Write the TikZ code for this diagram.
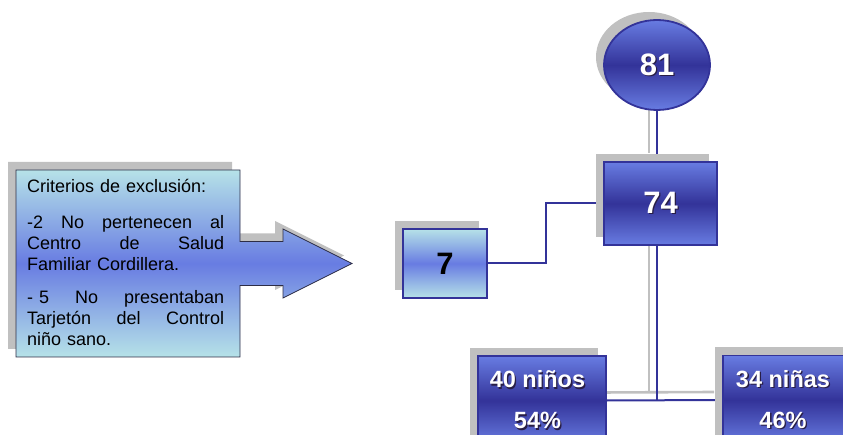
\documentclass[tikz,border=0pt]{standalone}
\usepackage{fontspec}
\setmainfont{Liberation Sans}
\usetikzlibrary{shapes.geometric,shadows}
\pgfdeclarelayer{back}
\pgfsetlayers{back,main}

\definecolor{navy}{RGB}{51,51,153}
\definecolor{periwinkle}{RGB}{104,124,226}
\definecolor{powder}{RGB}{182,226,232}
\definecolor{shadowgray}{RGB}{192,192,192}
\definecolor{txtshadow}{RGB}{40,30,70}
\definecolor{outline}{RGB}{45,45,70}

% white lettering with a small dark drop shadow
\newcommand\embossed[1]{\makebox[0pt][l]{\kern1.3pt\raisebox{-1.3pt}{\textcolor{txtshadow}{#1}}}#1}
% a justified line: the words are spread over the 197pt column
\newcommand\spread[1]{\leavevmode\hbox to 197pt{#1}}

\tikzset{
  dropshadow/.style={general shadow={fill=shadowgray, shadow xshift=-8pt, shadow yshift=8pt}},
  darkshade/.style={top color=periwinkle, bottom color=periwinkle, middle color=navy},
  lightshade/.style={top color=powder, bottom color=powder, middle color=periwinkle},
  bignum/.style={font=\bfseries\fontsize{31}{31}\selectfont},
  bluebox/.style={rectangle, draw=navy, line width=1.8pt, darkshade, dropshadow,
    text=white, inner sep=0pt},
  lightbox/.style={rectangle, draw=navy, line width=1.8pt, lightshade, dropshadow,
    text=black, inner sep=0pt},
  twoline/.style={font=\bfseries\fontsize{23.5}{41}\selectfont, align=center},
  link/.style={draw=navy, line width=2pt},
  linkshadow/.style={draw=shadowgray, line width=2.6pt,
    transform canvas={xshift=-8pt, yshift=8pt}},
}

\begin{document}
\begin{tikzpicture}[x=1pt, y=-1pt]
  \useasboundingbox (0,0) rectangle (843,435);
  \clip (0,0) rectangle (843,435);

  % exclusion criteria panel with its pointer
  \fill[shadowgray, transform canvas={xshift=-8pt, yshift=8pt}]
    (16,170) -- (240,170) -- (240,241.5) -- (283,241.5) -- (283,229) --
    (352,263.5) -- (283,298) -- (283,285.5) -- (240,285.5) -- (240,357) --
    (16,357) -- cycle;
  \path[draw=outline, line width=0.8pt, lightshade]
    (16,170) -- (240,170) -- (240,241.5) -- (283,241.5) -- (283,229) --
    (352,263.5) -- (283,298) -- (283,285.5) -- (240,285.5) -- (240,357) --
    (16,357) -- cycle;
  \node[anchor=base west, inner sep=0pt, text width=197pt, align=left,
        font=\fontsize{18}{20.8}\selectfont] (crit) at (27,193)
    {Criterios de exclusión:\\[15pt]
     \spread{-2\hfil No\hfil pertenecen\hfil al}\\
     \spread{Centro\hfil de\hfil Salud}\\
     Familiar Cordillera.\\[12.5pt]
     \spread{- 5\hfil No\hfil presentaban}\\
     \spread{Tarjetón\hfil del\hfil Control}\\
     niño sano.};

  % counts
  \node[ellipse, draw=navy, line width=1.8pt, darkshade, dropshadow, text=white,
        inner sep=0pt, minimum width=106pt, minimum height=90pt, bignum]
    (n81) at (657,65) {\embossed{81}};
  \node[bluebox, minimum width=113pt, minimum height=83pt, bignum]
    (n74) at (660.5,203.5) {\embossed{74}};
  \node[lightbox, minimum width=84pt, minimum height=69pt, bignum]
    (n7) at (445,263.5) {7};
  \node[bluebox, minimum width=128pt, minimum height=89pt, twoline]
    (n40) at (542,400.5) {\embossed{40 niños}\hspace*{9pt}\\\embossed{54\%}\hspace*{9pt}};
  \node[bluebox, minimum width=130pt, minimum height=89pt, twoline]
    (n34) at (788,400) {\embossed{34 niñas}\hspace*{10pt}\\\embossed{46\%}\hspace*{10pt}};

  \coordinate (split) at (n81 |- n40.east);

  % connectors, behind the boxes
  \begin{pgfonlayer}{back}
    \draw[linkshadow] (n81.south) -- (n81.south |- n74.north);
    \draw[linkshadow] (n81 |- n74.south) -- (split);
    \draw[linkshadow] (n40.east) -- (n34.west);
    \draw[link] (n81.south) -- (n81.south |- n74.north);
    \draw[link] (n81 |- n74.south) -- (split);
    \draw[link] (n40.east) -- (n34.west);
    \draw[link] (n7.east) -- ++(58,0) |- (n74.west);
  \end{pgfonlayer}
\end{tikzpicture}
\end{document}
